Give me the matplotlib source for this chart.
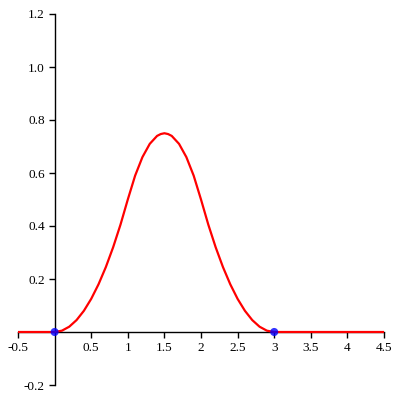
import matplotlib
matplotlib.use("Agg")
import matplotlib.pyplot as plt

curve_x = [-0.5, 0.0, 0.1, 0.2, 0.3, 0.4, 0.5, 0.6, 0.7, 0.8, 0.9, 1.0,
           1.1, 1.2, 1.3, 1.4, 1.45, 1.5, 1.55, 1.6, 1.7, 1.8, 1.9, 2.0,
           2.1, 2.2, 2.3, 2.4, 2.5, 2.6, 2.7, 2.8, 2.9, 3.0, 4.5]
curve_y = [0.0, 0.0, 0.005, 0.02, 0.045, 0.08, 0.125, 0.18, 0.245, 0.32, 0.405, 0.5,
           0.59, 0.66, 0.71, 0.74, 0.747, 0.75, 0.747, 0.74, 0.71, 0.66, 0.59, 0.5,
           0.405, 0.32, 0.245, 0.18, 0.125, 0.08, 0.045, 0.02, 0.005, 0.0, 0.0]
point_x = [0.0, 3.0]
point_y = [0.0, 0.0]
xticks = [-0.5, 0.5, 1, 1.5, 2, 2.5, 3, 3.5, 4, 4.5]
xticklabels = ["-0.5", "0.5", "1", "1.5", "2", "2.5", "3", "3.5", "4", "4.5"]
yticks = [-0.2, 0.2, 0.4, 0.6, 0.8, 1.0, 1.2]
yticklabels = ["-0.2", "0.2", "0.4", "0.6", "0.8", "1.0", "1.2"]

plt.rcParams['font.family'] = ['Liberation Serif', 'DejaVu Serif']
fig = plt.figure(figsize=(4, 4), dpi=100)
ax = fig.add_axes([0.045, 0.0375, 0.915, 0.9275])
ax.set_xlim(-0.5, 4.5)
ax.set_ylim(-0.2, 1.2)

ax.plot(curve_x, curve_y, color='#ff0000', lw=1.6, zorder=3)
ax.scatter(point_x, point_y, s=34, color='#0000ff', alpha=0.8, zorder=4, edgecolors='none')

for s in ['top', 'right']:
    ax.spines[s].set_visible(False)
ax.spines['left'].set_position(('data', 0))
ax.spines['bottom'].set_position(('data', 0))
ax.spines['left'].set_linewidth(1.0)
ax.spines['bottom'].set_linewidth(1.0)

ax.set_xticks(xticks)
ax.set_xticklabels(xticklabels)
ax.set_yticks(yticks)
ax.set_yticklabels(yticklabels)
ax.tick_params(axis='both', direction='out', length=4, width=1, labelsize=9.5, pad=3)

fig.savefig('out.png', dpi=100)
